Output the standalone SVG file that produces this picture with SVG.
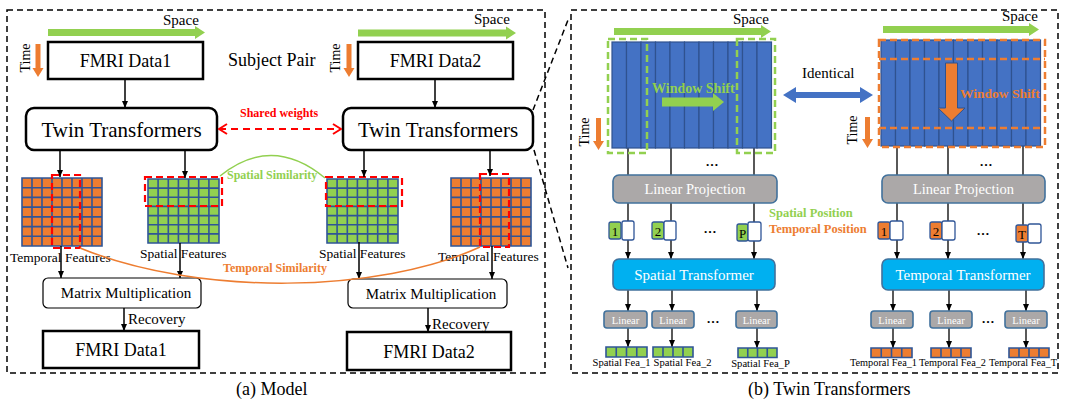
<svg xmlns="http://www.w3.org/2000/svg" width="1075" height="402" viewBox="0 0 1075 402" font-family="'Liberation Serif', 'DejaVu Serif', serif">
<defs>
<style>
text{font-family:'Liberation Serif','DejaVu Serif',serif}
.panel{fill:none;stroke:#000;stroke-width:1.5;stroke-dasharray:6,4}
.box{fill:#fff;stroke:#000;stroke-width:2.5}
.mbox{fill:#fff;stroke:#000;stroke-width:1.2}
.green{fill:#92D050}
.orange{fill:#ED7D31}
.gl{fill:none;stroke:#2F5597;stroke-width:1.6}
.reddash{fill:none;stroke:#FF0000;stroke-width:2.2;stroke-dasharray:7,4}
.conn{stroke:#000;stroke-width:1.5;fill:none}
.thin{stroke:#000;stroke-width:1.3;fill:none}
.col{fill:#4472C4;stroke:#2F528F;stroke-width:1.2}
.gray{fill:#ABA8A8;stroke:#41719C;stroke-width:1.6}
.cyan{fill:#00B0F0;stroke:#41719C;stroke-width:1.6}
.tok{stroke:#2F5597;stroke-width:1.3}
.wtok{fill:#fff;stroke:#2F5597;stroke-width:1.3}
.gdash{fill:none;stroke:#92D050;stroke-width:2.5;stroke-dasharray:7,4}
.odash{fill:none;stroke:#ED7D31;stroke-width:2.5;stroke-dasharray:7,4}
.wt{fill:#fff}
.lbl{font-size:13.5px}
.sm{font-size:10.6px}
.gt{fill:#92D050;font-weight:bold}
.ot{fill:#ED7D31;font-weight:bold}
.rt{fill:#FF0000;font-weight:bold}
</style>
<marker id="ah" markerUnits="userSpaceOnUse" markerWidth="7" markerHeight="6" viewBox="0 0 10 10" refX="10" refY="5" orient="auto" preserveAspectRatio="none"><path d="M0,0 L10,5 L0,10 z" fill="#000"/></marker>
<marker id="rh" markerUnits="userSpaceOnUse" markerWidth="10" markerHeight="12" viewBox="0 0 10 12" refX="9" refY="6" orient="auto-start-reverse"><path d="M1,1 L9,6 L1,11" fill="none" stroke="#FF0000" stroke-width="2"/></marker>
<rect id="c" class="col" width="14.5" height="106"/>
</defs>

<!-- panels -->
<rect class="panel" x="7" y="10" width="538" height="363"/>
<rect class="panel" x="571" y="10" width="487" height="363"/>
<text x="236" y="395" font-size="18">(a) Model</text>
<text x="748" y="395" font-size="18">(b) Twin Transformers</text>

<!-- ===== Panel (a) nodes ===== -->
<g id="space-a1">
<polygon class="green" points="48,29 195,29 195,26 205,32.5 195,39 195,36 48,36"/>
<text x="163" y="25" font-size="15">Space</text>
</g>
<g id="time-a1">
<polygon class="orange" points="35.5,44 40.5,44 40.5,68 43.5,68 38,77 32.5,68 35.5,68"/>
<text transform="translate(30,58) rotate(-90)" text-anchor="middle" font-size="14">Time</text>
</g>
<g id="fmri1">
<rect class="box" x="48" y="42" width="155" height="37"/>
<text x="125.5" y="67" text-anchor="middle" font-size="18">FMRI Data1</text>
</g>
<text id="subject-pair" x="228" y="66" font-size="18">Subject Pair</text>
<g id="space-a2">
<polygon class="green" points="358,29.5 506,29.5 506,26.5 516,33 506,39.5 506,36.5 358,36.5"/>
<text x="474" y="24" font-size="15">Space</text>
</g>
<g id="time-a2">
<polygon class="orange" points="346.5,44 351.5,44 351.5,68 354.5,68 349,77 343.5,68 346.5,68"/>
<text transform="translate(340,58) rotate(-90)" text-anchor="middle" font-size="14">Time</text>
</g>
<g id="fmri2">
<rect class="box" x="358" y="42" width="155" height="37"/>
<text x="435.5" y="67" text-anchor="middle" font-size="18">FMRI Data2</text>
</g>
<g id="twin1">
<rect class="box" x="26" y="108" width="191" height="42" rx="8"/>
<text x="121.5" y="137" text-anchor="middle" font-size="21">Twin Transformers</text>
</g>
<g id="twin2">
<rect class="box" x="343" y="108" width="190" height="42" rx="8"/>
<text x="438" y="137" text-anchor="middle" font-size="21">Twin Transformers</text>
</g>
<text id="shared-weights" x="240" y="117" font-size="12" class="rt">Shared weights</text>

<g id="temporal-feat-1">
<rect class="orange" x="22" y="178" width="80" height="68"/>
<path class="gl" d="M22,178H102V246H22Z M32,178V246 M42,178V246 M52,178V246 M62,178V246 M72,178V246 M82,178V246 M92,178V246 M22,187.7H102 M22,197.4H102 M22,207.1H102 M22,216.9H102 M22,226.6H102 M22,236.3H102"/>
<rect class="reddash" x="52" y="175" width="28" height="73"/>
<text class="lbl" x="10" y="262">Temporal Features</text>
</g>
<g id="spatial-feat-1">
<rect class="green" x="148" y="179" width="71" height="64"/>
<path class="gl" d="M148,179H219V243H148Z M158.1,179V243 M168.3,179V243 M178.4,179V243 M188.6,179V243 M198.7,179V243 M208.9,179V243 M148,188.1H219 M148,197.3H219 M148,206.4H219 M148,215.6H219 M148,224.7H219 M148,233.9H219"/>
<rect class="reddash" x="145" y="177" width="77" height="29"/>
<text class="lbl" x="140" y="258">Spatial Features</text>
</g>
<g id="spatial-feat-2">
<rect class="green" x="327" y="179" width="71" height="64"/>
<path class="gl" d="M327,179H398V243H327Z M337.1,179V243 M347.3,179V243 M357.4,179V243 M367.6,179V243 M377.7,179V243 M387.9,179V243 M327,188.1H398 M327,197.3H398 M327,206.4H398 M327,215.6H398 M327,224.7H398 M327,233.9H398"/>
<rect class="reddash" x="326" y="177" width="76" height="29"/>
<text class="lbl" x="319" y="258">Spatial Features</text>
</g>
<g id="temporal-feat-2">
<rect class="orange" x="451" y="178" width="80" height="68"/>
<path class="gl" d="M451,178H531V246H451Z M461,178V246 M471,178V246 M481,178V246 M491,178V246 M501,178V246 M511,178V246 M521,178V246 M451,187.7H531 M451,197.4H531 M451,207.1H531 M451,216.9H531 M451,226.6H531 M451,236.3H531"/>
<rect class="reddash" x="480" y="174" width="29" height="73"/>
<text class="lbl" x="438" y="261">Temporal Features</text>
</g>
<text id="spatial-sim" x="227" y="179" font-size="12" class="gt">Spatial Similarity</text>
<text id="temporal-sim" x="223" y="272" font-size="12" class="ot">Temporal Similarity</text>

<g id="matmul1">
<rect class="mbox" x="43" y="278" width="158" height="30" rx="5"/>
<text x="126" y="298" text-anchor="middle" font-size="15">Matrix Multiplication</text>
</g>
<g id="matmul2">
<rect class="mbox" x="348" y="279" width="159" height="29" rx="5"/>
<text x="431" y="299" text-anchor="middle" font-size="15">Matrix Multiplication</text>
</g>
<text x="128" y="324" font-size="15">Recovery</text>
<text x="432" y="329" font-size="15">Recovery</text>
<g id="fmri1-out">
<rect class="box" x="43" y="331" width="156" height="37"/>
<text x="121" y="356" text-anchor="middle" font-size="18">FMRI Data1</text>
</g>
<g id="fmri2-out">
<rect class="box" x="347" y="332" width="164" height="38"/>
<text x="429" y="358" text-anchor="middle" font-size="18">FMRI Data2</text>
</g>

<!-- ===== Connectors ===== -->
<g id="connectors">
<line class="conn" x1="125" y1="79" x2="125" y2="108" marker-end="url(#ah)"/>
<line class="conn" x1="435" y1="79" x2="435" y2="108" marker-end="url(#ah)"/>
<line class="conn" x1="60" y1="150" x2="60" y2="177" marker-end="url(#ah)"/>
<line class="conn" x1="185" y1="150" x2="185" y2="178" marker-end="url(#ah)"/>
<line class="conn" x1="364" y1="150" x2="364" y2="177" marker-end="url(#ah)"/>
<line class="conn" x1="490" y1="150" x2="490" y2="176" marker-end="url(#ah)"/>
<line class="conn" x1="61" y1="246" x2="61" y2="278" marker-end="url(#ah)"/>
<line class="conn" x1="180" y1="243" x2="180" y2="278" marker-end="url(#ah)"/>
<line class="conn" x1="359" y1="242" x2="359" y2="279" marker-end="url(#ah)"/>
<line class="conn" x1="492" y1="246" x2="492" y2="279" marker-end="url(#ah)"/>
<line class="conn" x1="124" y1="308" x2="124" y2="331" marker-end="url(#ah)"/>
<line class="conn" x1="428" y1="308" x2="428" y2="332" marker-end="url(#ah)"/>
<line x1="219" y1="129" x2="341" y2="129" stroke="#FF0000" stroke-width="2" stroke-dasharray="7,5" marker-start="url(#rh)" marker-end="url(#rh)"/>
<path d="M220,176 Q272,134 325,178" fill="none" stroke="#92D050" stroke-width="1.5"/>
<path d="M80,248 C200,297 380,293 480,247" fill="none" stroke="#ED7D31" stroke-width="1.5"/>
<line class="panel" x1="533" y1="110" x2="568" y2="20"/>
<line class="panel" x1="534" y1="150" x2="568" y2="268"/>
<!-- panel b -->
<polygon fill="#4472C4" points="783,95 796,87 796,92 860,92 860,87 873,95 860,103 860,98 796,98 796,103"/>
<path class="thin" d="M628,148V175 M671,148V175 M754,148V175 M897,146V175 M948,146V175 M1023,146V175"/>
<line class="thin" x1="628" y1="203" x2="628" y2="259" marker-end="url(#ah)"/>
<line class="thin" x1="671" y1="203" x2="671" y2="259" marker-end="url(#ah)"/>
<line class="thin" x1="754" y1="203" x2="754" y2="259" marker-end="url(#ah)"/>
<line class="thin" x1="897" y1="203" x2="897" y2="259" marker-end="url(#ah)"/>
<line class="thin" x1="948" y1="203" x2="948" y2="259" marker-end="url(#ah)"/>
<line class="thin" x1="1023" y1="203" x2="1023" y2="259" marker-end="url(#ah)"/>
<line class="thin" x1="628" y1="290" x2="628" y2="311" marker-end="url(#ah)"/>
<line class="thin" x1="672" y1="290" x2="672" y2="311" marker-end="url(#ah)"/>
<line class="thin" x1="757" y1="290" x2="757" y2="311" marker-end="url(#ah)"/>
<line class="thin" x1="893" y1="290" x2="893" y2="311" marker-end="url(#ah)"/>
<line class="thin" x1="949" y1="290" x2="949" y2="311" marker-end="url(#ah)"/>
<line class="thin" x1="1026" y1="290" x2="1026" y2="311" marker-end="url(#ah)"/>
<line class="thin" x1="628" y1="328" x2="628" y2="347" marker-end="url(#ah)"/>
<line class="thin" x1="672" y1="328" x2="672" y2="347" marker-end="url(#ah)"/>
<line class="thin" x1="757" y1="328" x2="757" y2="348" marker-end="url(#ah)"/>
<line class="thin" x1="893" y1="328" x2="893" y2="348" marker-end="url(#ah)"/>
<line class="thin" x1="949" y1="328" x2="949" y2="348" marker-end="url(#ah)"/>
<line class="thin" x1="1026" y1="328" x2="1026" y2="348" marker-end="url(#ah)"/>
</g>
<text id="identical" x="802" y="78" font-size="15">Identical</text>

<!-- ===== Panel (b) nodes ===== -->
<g id="spatial-input">
<polygon class="green" points="614,28 761,28 761,25 771,31.5 761,38 761,35 614,35"/>
<text x="733" y="24" font-size="15">Space</text>
<polygon class="orange" points="596,118 601,118 601,141 604,141 598.5,150 593,141 596,141"/>
<text transform="translate(589,132) rotate(-90)" text-anchor="middle" font-size="14">Time</text>
<use href="#c" x="612" y="42"/><use href="#c" x="626.5" y="42"/><use href="#c" x="641" y="42"/><use href="#c" x="655.5" y="42"/><use href="#c" x="670" y="42"/><use href="#c" x="684.5" y="42"/><use href="#c" x="699" y="42"/><use href="#c" x="713.5" y="42"/><use href="#c" x="728" y="42"/><use href="#c" x="742.5" y="42"/><use href="#c" x="757" y="42"/>
<rect class="gdash" x="608" y="39" width="39" height="114"/>
<rect class="gdash" x="737" y="39" width="38" height="114"/>
<text x="652" y="93" font-size="14" class="gt">Window Shift</text>
<polygon class="green" points="662,97.5 713,97.5 713,93 724,102 713,111 713,106.5 662,106.5"/>
<text x="712" y="166" text-anchor="middle" font-size="13" font-weight="bold">…</text>
</g>
<g id="temporal-input">
<polygon class="green" points="883,26 1029,26 1029,23 1039,29.5 1029,36 1029,33 883,33"/>
<text x="1002" y="21" font-size="15">Space</text>
<polygon class="orange" points="865,117 870,117 870,139 873,139 867.5,148 862,139 865,139"/>
<text transform="translate(857,130) rotate(-90)" text-anchor="middle" font-size="14">Time</text>
<use href="#c" x="881" y="40"/><use href="#c" x="895.5" y="40"/><use href="#c" x="910" y="40"/><use href="#c" x="924.5" y="40"/><use href="#c" x="939" y="40"/><use href="#c" x="953.5" y="40"/><use href="#c" x="968" y="40"/><use href="#c" x="982.5" y="40"/><use href="#c" x="997" y="40"/><use href="#c" x="1011.5" y="40"/><use href="#c" x="1026" y="40"/>
<rect class="odash" x="879" y="40" width="166" height="107"/>
<path class="odash" d="M879,59H1045 M879,128H1045"/>
<polygon class="orange" stroke="#2F528F" stroke-width="1" points="945.5,63 957.5,63 957.5,108 965,108 951.5,121 938,108 945.5,108"/>
<text x="960" y="98" font-size="13.5" class="ot">Window Shift</text>
<text x="986" y="166" text-anchor="middle" font-size="13" font-weight="bold">…</text>
</g>

<g id="linear-proj-1">
<rect class="gray" x="613" y="175" width="164" height="28" rx="6"/>
<text x="695" y="194" text-anchor="middle" font-size="14.5" class="wt">Linear Projection</text>
</g>
<g id="linear-proj-2">
<rect class="gray" x="882" y="175" width="163" height="28" rx="6"/>
<text x="963.5" y="194" text-anchor="middle" font-size="14.5" class="wt">Linear Projection</text>
</g>

<g id="spatial-tokens">
<rect class="green tok" x="609" y="222" width="12" height="17" rx="2"/><rect class="wtok" x="622" y="221" width="12" height="19" rx="2"/>
<text x="615" y="236" text-anchor="middle" font-size="13">1</text>
<rect class="green tok" x="652" y="222" width="12" height="17" rx="2"/><rect class="wtok" x="664" y="221" width="12" height="19" rx="2"/>
<text x="658" y="236" text-anchor="middle" font-size="13">2</text>
<text x="710" y="233" text-anchor="middle" font-size="13" font-weight="bold">…</text>
<rect class="green tok" x="737" y="224" width="11" height="17" rx="2"/><rect class="wtok" x="748" y="222" width="13" height="19" rx="2"/>
<text x="742.5" y="238" text-anchor="middle" font-size="13">P</text>
</g>
<g id="temporal-tokens">
<rect class="orange tok" x="878" y="222" width="12" height="17" rx="2"/><rect class="wtok" x="890" y="221" width="13" height="19" rx="2"/>
<text x="884" y="236" text-anchor="middle" font-size="13">1</text>
<rect class="orange tok" x="930" y="222" width="12" height="17" rx="2"/><rect class="wtok" x="942" y="221" width="13" height="19" rx="2"/>
<text x="936" y="236" text-anchor="middle" font-size="13">2</text>
<text x="983" y="235" text-anchor="middle" font-size="13" font-weight="bold">…</text>
<rect class="orange tok" x="1016" y="225" width="12" height="17" rx="2"/><rect class="wtok" x="1028" y="224" width="13" height="19" rx="2"/>
<text x="1022" y="239" text-anchor="middle" font-size="13">T</text>
</g>
<g id="position-legend">
<text x="769" y="217" font-size="12.5" class="gt">Spatial Position</text>
<text x="769" y="233" font-size="12.5" class="ot">Temporal Position</text>
</g>

<g id="spatial-transformer">
<rect class="cyan" x="613" y="259" width="162" height="31" rx="6"/>
<text x="694" y="280" text-anchor="middle" font-size="15" class="wt">Spatial Transformer</text>
</g>
<g id="temporal-transformer">
<rect class="cyan" x="882" y="259" width="162" height="31" rx="6"/>
<text x="963" y="280" text-anchor="middle" font-size="15" class="wt">Temporal Transformer</text>
</g>

<g id="spatial-linears">
<rect class="gray" x="604" y="311" width="43" height="17" rx="3"/><text x="625.5" y="323.5" text-anchor="middle" font-size="10.5" class="wt">Linear</text>
<rect class="gray" x="652" y="311" width="42" height="17" rx="3"/><text x="673" y="323.5" text-anchor="middle" font-size="10.5" class="wt">Linear</text>
<text x="713" y="323" text-anchor="middle" font-size="13" font-weight="bold">…</text>
<rect class="gray" x="736" y="311" width="41" height="17" rx="3"/><text x="756.5" y="323.5" text-anchor="middle" font-size="10.5" class="wt">Linear</text>
</g>
<g id="temporal-linears">
<rect class="gray" x="871" y="311" width="42" height="17" rx="3"/><text x="892" y="323.5" text-anchor="middle" font-size="10.5" class="wt">Linear</text>
<rect class="gray" x="930" y="311" width="42" height="17" rx="3"/><text x="951" y="323.5" text-anchor="middle" font-size="10.5" class="wt">Linear</text>
<text x="988" y="323" text-anchor="middle" font-size="13" font-weight="bold">…</text>
<rect class="gray" x="1005" y="311" width="42" height="17" rx="3"/><text x="1026" y="323.5" text-anchor="middle" font-size="10.5" class="wt">Linear</text>
</g>

<g id="spatial-feas">
<rect class="green" x="606" y="347" width="41" height="10"/><path class="gl" stroke-width="1.3" d="M606,347H647V357H606Z M616.25,347V357 M626.5,347V357 M636.75,347V357"/>
<rect class="green" x="653" y="347" width="40" height="10"/><path class="gl" stroke-width="1.3" d="M653,347H693V357H653Z M663,347V357 M673,347V357 M683,347V357"/>
<rect class="green" x="738" y="348" width="39" height="9.5"/><path class="gl" stroke-width="1.3" d="M738,348H777V357.5H738Z M747.75,348V357.5 M757.5,348V357.5 M767.25,348V357.5"/>
<text x="621.5" y="366" text-anchor="middle" class="sm">Spatial Fea_1</text>
<text x="682.5" y="366" text-anchor="middle" class="sm">Spatial Fea_2</text>
<text x="760.5" y="367" text-anchor="middle" class="sm">Spatial Fea_P</text>
</g>
<g id="temporal-feas">
<rect class="orange" x="871" y="348" width="41" height="9.5"/><path class="gl" stroke-width="1.3" d="M871,348H912V357.5H871Z M881.25,348V357.5 M891.5,348V357.5 M901.75,348V357.5"/>
<rect class="orange" x="931" y="348" width="40" height="9.5"/><path class="gl" stroke-width="1.3" d="M931,348H971V357.5H931Z M941,348V357.5 M951,348V357.5 M961,348V357.5"/>
<rect class="orange" x="1009" y="348" width="40" height="9.5"/><path class="gl" stroke-width="1.3" d="M1009,348H1049V357.5H1009Z M1019,348V357.5 M1029,348V357.5 M1039,348V357.5"/>
<text x="883.5" y="366" text-anchor="middle" font-size="10.3">Temporal Fea_1</text>
<text x="952.5" y="366" text-anchor="middle" font-size="10.3">Temporal Fea_2</text>
<text x="1023" y="366" text-anchor="middle" font-size="10.3">Temporal Fea_T</text>
</g>
</svg>
